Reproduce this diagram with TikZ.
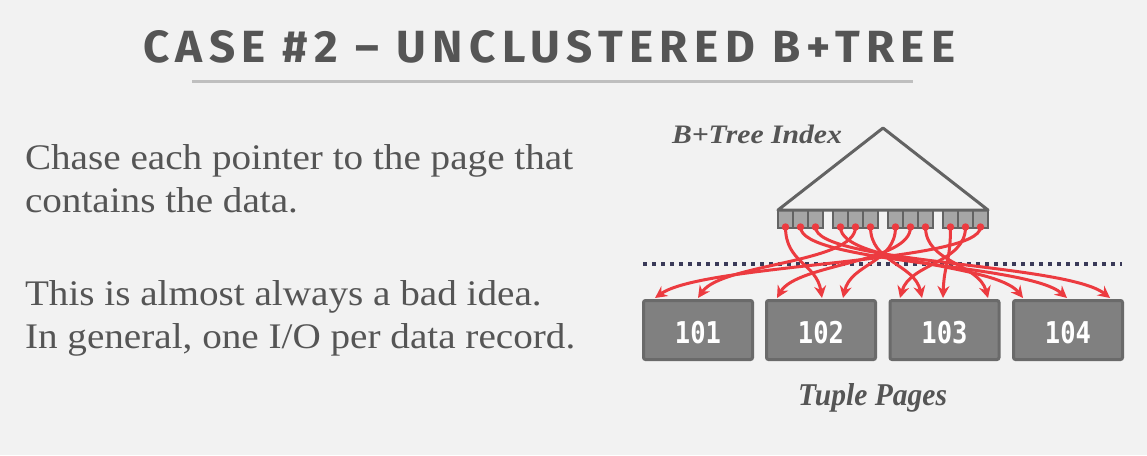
\documentclass[tikz,border=0pt]{standalone}
\usepackage{fontspec}
\setmainfont{Liberation Serif}
\newfontfamily\titlefont{Fira Sans}
\newfontfamily\numfont{DejaVu Sans Mono}
\usetikzlibrary{arrows.meta,calc}
\definecolor{bg}{HTML}{F2F2F2}
\definecolor{txt}{HTML}{555555}
\definecolor{rulec}{HTML}{BFBFBF}
\definecolor{ptr}{HTML}{EC3B40}
\definecolor{treec}{HTML}{636363}
\definecolor{cellc}{HTML}{A6A6A6}
\definecolor{pagefill}{HTML}{808080}
\definecolor{pageedge}{HTML}{6A6A6A}
\definecolor{dotline}{HTML}{3A3A58}
\begin{document}
\begin{tikzpicture}[x=1pt,y=-1pt,
  lbl/.style={inner sep=0pt, outer sep=0pt, anchor=base west, text=txt},
  pagebox/.style={draw=pageedge, fill=pagefill, line width=3pt, rounded corners=2pt, minimum width=109pt, minimum height=59pt, inner sep=0pt},
  pagenum/.style={inner sep=0pt, outer sep=0pt, anchor=base, text=white},
  keycell/.style={draw=treec, fill=cellc, line width=2pt, minimum width=15pt, minimum height=18pt, inner sep=0pt, outer sep=0pt, anchor=north west},
  ptrline/.style={draw=ptr, line width=3pt, -{Stealth[length=12pt,width=12pt,inset=4pt]}},
  ptrdot/.style={fill=ptr, circle, inner sep=0pt, minimum size=7.5pt}
]
\useasboundingbox (0,0) rectangle (1147,455);
\fill[bg] (0,0) rectangle (1147,455);

% title
\node[lbl] (title) at (143,62) {\resizebox{812pt}{32pt}{\titlefont\bfseries\addfontfeature{LetterSpace=14}CASE \#2 – UNCLUSTERED B+TREE}};
\coordinate (ulA) at (192,81.5);
\coordinate (ulB) at (913,81.5);
\draw[rulec, line width=3.5pt] (ulA) -- (ulB);

% left text
\node[lbl] (l1) at (25,169) {\scalebox{1.088}[1]{\fontsize{36}{43}\selectfont Chase each pointer to the page that}};
\node[lbl] (l2) at (25,212) {\scalebox{1.088}[1]{\fontsize{36}{43}\selectfont contains the data.}};
\node[lbl] (l3) at (25,305) {\scalebox{1.088}[1]{\fontsize{36}{43}\selectfont This is almost always a bad idea.}};
\node[lbl] (l4) at (25,348) {\scalebox{1.088}[1]{\fontsize{36}{43}\selectfont In general, one I/O per data record.}};

% labels
\node[lbl] (btl) at (672,143) {\resizebox{170pt}{18.5pt}{\fontsize{27}{27}\selectfont\bfseries\itshape B+Tree Index}};
\node[lbl] (tpl) at (798,405) {\resizebox{149pt}{22pt}{\fontsize{31}{31}\selectfont\bfseries\itshape Tuple Pages}};

% tree
\coordinate (apex) at (883,128);
\coordinate (bl) at (778,210);
\coordinate (br) at (988,210);
\foreach \g in {778,833,888,943}{
  \foreach \k in {0,1,2}{
    \node[keycell] (c\g-\k) at ({\g+15*\k},210) {};
  }
}
\draw[treec, line width=3pt, line join=round] (bl) -- (apex) -- (br) -- cycle;

% dotted line
\coordinate (dA) at (643,264);
\coordinate (dB) at (1122,264);
\draw[dotline, line width=4pt, dash pattern=on 4pt off 5pt] (dA) -- (dB);

% pages
\node[pagebox] (p1) at (698,330) {};
\node[pagebox] (p2) at (821,330) {};
\node[pagebox] (p3) at (944.5,330) {};
\node[pagebox] (p4) at (1068,330) {};
\foreach \p/\t in {p1/101,p2/102,p3/103,p4/104}{
  \node[pagenum] at ($(\p.center)+(0,13)$) {\scalebox{0.85}[1]{\fontsize{30}{30}\numfont\bfseries \t}};
}

% sources and targets
\foreach \i/\x in {1/785.5,2/800.5,3/815.5,4/840.5,5/855.5,6/870.5,7/895.5,8/910.5,9/925.5,10/950.5,11/965.5,12/980.5}{
  \coordinate (s\i) at (\x,227);
}
\foreach \i/\x in {1/655,2/698,3/777,4/822,5/843,6/900,7/922,8/943,9/988,10/1023,11/1067,12/1110}{
  \coordinate (t\i) at (\x,298);
}
\foreach \s/\t in {1/4,2/11,3/12,4/10,5/2,6/7,7/5,8/3,9/9,10/8,11/6,12/1}{
  \draw[ptrline] (s\s) .. controls ($(s\s)+(0,36)$) and ($(t\t)!0.15!(s\s)+(0,-24)$) .. (t\t);
}
\foreach \i in {1,...,12}{
  \node[ptrdot] at (s\i) {};
}
\end{tikzpicture}
\end{document}
